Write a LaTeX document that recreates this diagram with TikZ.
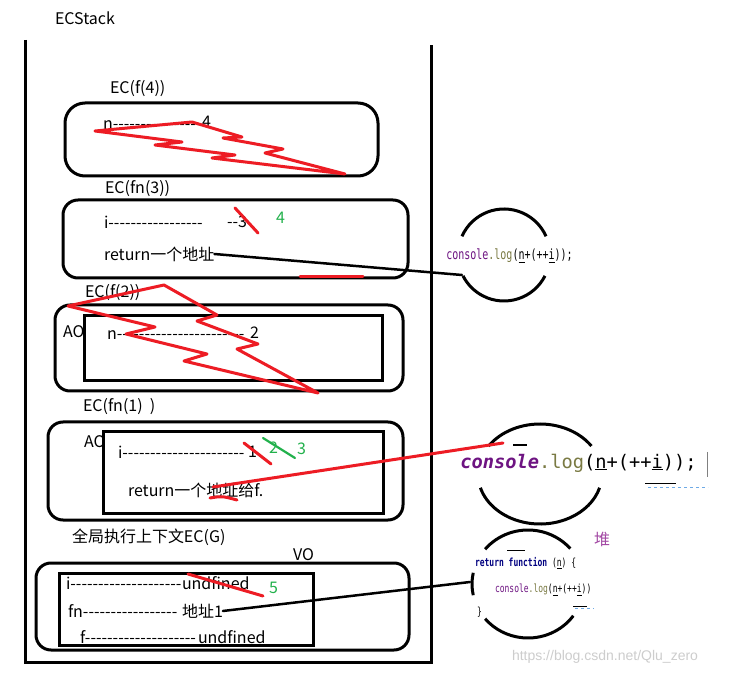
\documentclass[tikz,border=0pt]{standalone}
\usepackage{fontspec}
\newfontfamily\cjk{Noto Sans CJK SC}
\newfontfamily\codefont{DejaVu Sans Mono}
\newfontfamily\wmfont{Liberation Sans}
\definecolor{pred}{RGB}{237,28,36}
\definecolor{pgreen}{RGB}{34,177,76}
\definecolor{cpurple}{RGB}{110,20,130}
\definecolor{colive}{RGB}{122,122,67}
\definecolor{cnavy}{RGB}{0,0,128}
\definecolor{heap}{RGB}{163,73,164}
\definecolor{wm}{RGB}{205,205,205}
\definecolor{lblue}{RGB}{110,170,230}
\begin{document}
\begin{tikzpicture}[x=1pt,y=-1pt,
  every node/.style={inner sep=0pt,outer sep=0pt},
  lbl/.style={font=\cjk\fontsize{16}{18}\selectfont,anchor=west},
  grn/.style={lbl,text=pgreen},
  rbox/.style={draw,line width=3pt,rounded corners=15pt},
  ibox/.style={draw,line width=3pt},
  thick3/.style={line width=3pt},
  redln/.style={draw=pred,line width=3pt,line join=round,line cap=round},
  grnln/.style={draw=pgreen,line width=2.2pt,line cap=round},
  conn/.style={draw,line width=2.5pt,line cap=round},
  arcln/.style={draw,line width=3pt}]
\useasboundingbox (0,0) rectangle (729,676);
\fill[white] (0,0) rectangle (729,676);

% ECStack container
\node[lbl] (title) at (55,18) {ECStack};
\coordinate (stl) at (25,40);
\coordinate (sbl) at (25,662);
\coordinate (sbr) at (431,662);
\coordinate (str) at (431,45);
\draw[thick3] (stl) -- (sbl) -- (sbr) -- (str);

% EC(f(4))
\node[lbl] (lf4) at (110,89) {EC(f(4))};
\node[draw,line width=3pt,rounded corners=20pt,minimum width=313,minimum height=73] (bf4) at (221.5,139.5) {};
\node[lbl] (nf4) at (103,125) {n----------------};
\node[lbl] (vf4) at (202,122) {4};
\draw[redln] (95,131) -- (192,122) -- (242,137) -- (223,138) -- (283,149) -- (265,153) -- (345,174) -- (212,158) -- (235,155) -- (155,145) -- (182,142) -- cycle;

% EC(fn(3))
\node[lbl] (lfn3) at (105,189) {EC(fn(3))};
\node[rbox,minimum width=345,minimum height=78] (bfn3) at (235.5,239) {};
\node[lbl] (ifn3) at (104,222) {i-----------------};
\node[lbl] (vfn3) at (227,222) {--3};
\draw[redln] (235,208) -- (258,233);
\node[grn] (g4) at (276,218) {4};
\node[lbl] (ret3) at (104,254) {return一个地址};
\draw[redln] (300,277) -- (363,277);

% circle 1
\coordinate (c1) at (504,255);
\draw[arcln] (c1) ++(204:46) arc[start angle=204,end angle=336,radius=46];
\draw[arcln] (c1) ++(27:46) arc[start angle=27,end angle=153,radius=46];
\node (code1) at (509.5,256) {\scalebox{1}[1.4]{\codefont\fontsize{10}{12}\selectfont\textcolor{cpurple}{console}\textcolor{colive}{.log}(\underline{n}+(++\underline{i}));}};
\coordinate (c1in) at (462,275);
\draw[conn] (ret3.east) -- (c1in);

% EC(f(2))
\node[lbl] (lf2) at (85,293) {EC(f(2))};
\node[rbox,minimum width=348,minimum height=86] (bf2) at (229,348) {};
\node[ibox,minimum width=298,minimum height=65] (if2) at (233,348.5) {};
\node[lbl] (ao2) at (63,332) {AO};
\node[lbl] (nf2) at (107,335) {n-----------------------};
\node[lbl] (vf2) at (250,333) {2};
\draw[redln] (68,306) -- (164,285) -- (217,315) -- (197,321) -- (258,344) -- (237,349) -- (318,393) -- (184,361) -- (207,354) -- (126,334) -- (155,327) -- cycle;

% EC(fn(1))
\node[lbl] (lfn1) at (83,407) {EC(fn(1)\ \ )};
\node[rbox,minimum width=355,minimum height=98] (bfn1) at (225.5,471) {};
\node[ibox,minimum width=280,minimum height=81] (ifn1) at (243,472.5) {};
\node[lbl] (ao1) at (84,442) {AO};
\node[lbl] (ifn1t) at (118,452) {i----------------------};
\node[lbl] (vfn1) at (248,452) {1};
\draw[redln] (244,443) -- (271,464);
\node[grn] (g2) at (269,448) {2};
\draw[grnln] (263,438) -- (295,458);
\node[grn] (g3) at (297,449) {3};
\node[lbl] (ret1) at (128,490) {return一个地址给f.};
\draw[redln] (210,498) .. controls (222,496) .. (237,500);

% circle 2
\coordinate (c2) at (540,474);
\draw[arcln] (c2) ++(214:62 and 50) arc[start angle=214,end angle=326,x radius=62,y radius=50];
\draw[arcln] (c2) ++(16:62 and 50) arc[start angle=16,end angle=164,x radius=62,y radius=50];
\node (code2) at (578.5,463) {\codefont\fontsize{18.7}{20}\selectfont\textcolor{cpurple}{\bfseries\itshape console}\textcolor{colive}{.log}(\underline{n}+(++\underline{i}));};
\draw[line width=1pt,gray] (707,452) -- (707,477);
\draw[line width=1.2pt] (513,445) -- (527,445);
\draw[line width=1pt] (645,484) -- (676,484);
\draw[lblue,line width=0.8pt,dashed] (648,487) -- (708,487);
\coordinate (addrf) at (213,487);
\coordinate (c2in) at (503,443);
\draw[redln] (addrf) -- (c2in);

% heap label
\node[lbl,text=heap] (heapl) at (594,539) {堆};

% Global EC
\node[lbl] (lg) at (72,537) {全局执行上下文EC(G)};
\node[lbl] (vo) at (293,555) {VO};
\node[rbox,minimum width=373,minimum height=87] (bg) at (222.5,606.5) {};
\node[ibox,minimum width=254,minimum height=72] (ig) at (186,609) {};
\node[lbl] (gi) at (66,583) {i--------------------};
\node[lbl] (giv) at (182,583) {undfined};
\draw[redln] (188,574) -- (263,596);
\node[grn] (g5) at (269,588) {5};
\node[lbl] (gfn) at (68,611) {fn-----------------};
\node[lbl] (addr1) at (182,611) {地址1};
\node[lbl] (gf) at (80,637) {f--------------------};
\node[lbl] (gfv) at (198,637) {undfined};

% circle 3
\coordinate (c3) at (528,584);
\draw[arcln] (c3) ++(220:56 and 54) arc[start angle=220,end angle=319,x radius=56,y radius=54];
\draw[arcln] (c3) ++(36:56 and 54) arc[start angle=36,end angle=140,x radius=56,y radius=54];
\draw[arcln] (c3) ++(168:56 and 54) arc[start angle=168,end angle=192,x radius=56,y radius=54];
\node[anchor=west] (code3a) at (475,563) {\scalebox{1}[1.4]{\codefont\fontsize{8}{9}\selectfont\textcolor{cnavy}{\bfseries return function} (\underline{n}) \{}};
\node[anchor=west] (code3b) at (495,590) {\scalebox{1}[1.4]{\codefont\fontsize{8}{9}\selectfont\textcolor{cpurple}{console}\textcolor{colive}{.log}(\underline{n}+(++\underline{i}))}};
\node[anchor=west] (code3c) at (477,612) {\scalebox{1}[1.4]{\codefont\fontsize{8}{9}\selectfont\}}};
\draw[line width=1pt] (507,550) -- (525,550);
\draw[line width=1pt] (573,606) -- (587,606);
\draw[lblue,line width=0.8pt,dashed] (575,608) -- (594,608);
\coordinate (c3in) at (470,582);
\draw[conn] (addr1.east) -- (c3in);

% watermark
\node[anchor=west,text=wm,font=\wmfont\fontsize{14}{16}\selectfont] (wmk) at (512,657) {https://blog.csdn.net/Qlu\_zero};
\end{tikzpicture}
\end{document}
